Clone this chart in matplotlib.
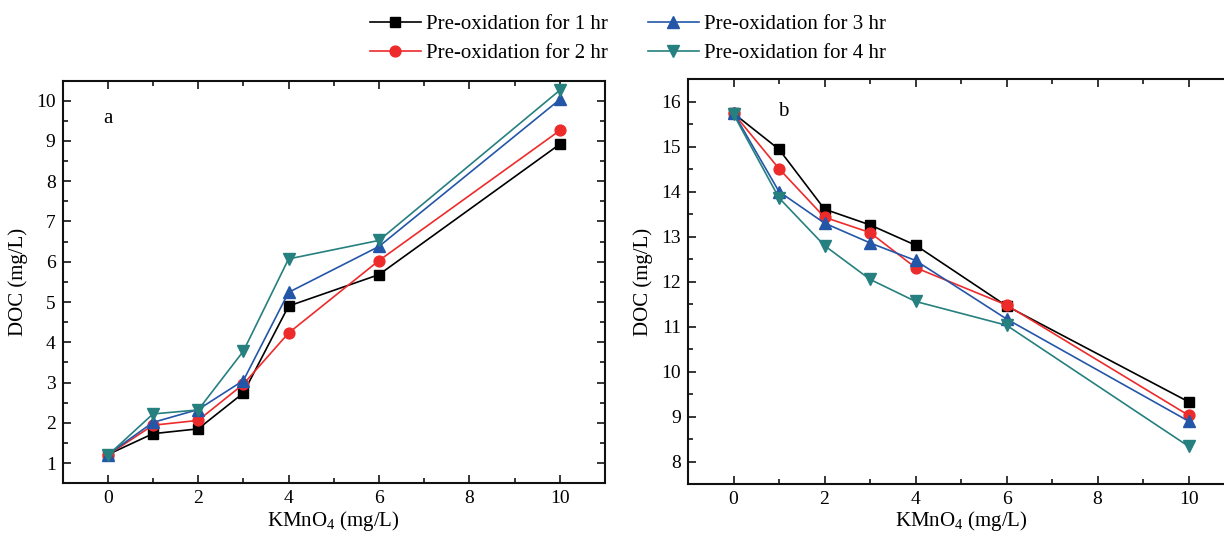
import matplotlib
matplotlib.use("Agg")
import matplotlib.pyplot as plt
from matplotlib.ticker import MultipleLocator

plt.rcParams['font.family'] = ['Liberation Serif', 'DejaVu Serif']
plt.rcParams['mathtext.fontset'] = 'custom'
plt.rcParams['mathtext.rm'] = 'Liberation Serif'

# KMnO4 dose (mg/L)
dose = [0, 1, 2, 3, 4, 6, 10]

labels = ['Pre-oxidation for 1 hr', 'Pre-oxidation for 2 hr',
          'Pre-oxidation for 3 hr', 'Pre-oxidation for 4 hr']

# Panel a: DOC (mg/L)
doc_a_1hr = [1.21, 1.73, 1.85, 2.74, 4.90, 5.68, 8.92]
doc_a_2hr = [1.20, 1.94, 2.06, 2.96, 4.23, 6.03, 9.26]
doc_a_3hr = [1.21, 2.01, 2.33, 3.05, 5.24, 6.38, 10.03]
doc_a_4hr = [1.19, 2.22, 2.32, 3.78, 6.07, 6.53, 10.26]

# Panel b: DOC (mg/L)
doc_b_1hr = [15.74, 14.94, 13.61, 13.26, 12.81, 11.46, 9.33]
doc_b_2hr = [15.74, 14.51, 13.43, 13.09, 12.31, 11.48, 9.03]
doc_b_3hr = [15.75, 14.00, 13.30, 12.86, 12.47, 11.17, 8.90]
doc_b_4hr = [15.72, 13.86, 12.80, 12.05, 11.56, 11.03, 8.34]

colors = ['#000000', '#EE2B2B', '#2456A8', '#25807F']
markers = ['s', 'o', '^', 'v']
msizes = [6.8, 7.8, 8.5, 8.5]

fig = plt.figure(figsize=(12.24, 5.36), dpi=100)
ax_a = fig.add_axes([0.0511, 0.0985, 0.4432, 0.7512])
ax_b = fig.add_axes([0.5621, 0.0968, 0.4461, 0.7556])

series_a = [doc_a_1hr, doc_a_2hr, doc_a_3hr, doc_a_4hr]
series_b = [doc_b_1hr, doc_b_2hr, doc_b_3hr, doc_b_4hr]

handles = []
for ax, series in ((ax_a, series_a), (ax_b, series_b)):
    for vals, c, m, ms, lab in zip(series, colors, markers, msizes, labels):
        h, = ax.plot(dose, vals, color=c, marker=m, markersize=ms,
                     linewidth=1.2, label=lab)
        if ax is ax_a:
            handles.append(h)

def style(ax, ylo, yhi):
    ax.set_xlim(-1, 11)
    ax.set_ylim(ylo, yhi)
    ax.xaxis.set_major_locator(MultipleLocator(2))
    ax.xaxis.set_minor_locator(MultipleLocator(1))
    ax.yaxis.set_major_locator(MultipleLocator(1))
    ax.yaxis.set_minor_locator(MultipleLocator(0.5))
    ax.tick_params(which='both', direction='in', top=True, right=True,
                   labelsize=14, width=1.1, pad=5)
    ax.tick_params(which='major', length=6)
    ax.tick_params(which='minor', length=3.5)
    for sp in ax.spines.values():
        sp.set_linewidth(1.5)
        sp.set_color('#111111')
    ax.set_xlabel('KMnO$_\\mathregular{4}$ (mg/L)', fontsize=15, labelpad=1)
    ax.set_ylabel('DOC (mg/L)', fontsize=15, labelpad=6)

style(ax_a, 0.5, 10.5)
style(ax_b, 7.5, 16.5)
ax_a.set_yticks([1, 2, 3, 4, 5, 6, 7, 8, 9, 10])
ax_b.set_yticks([8, 9, 10, 11, 12, 13, 14, 15, 16])

ax_a.text(0, 9.57, 'a', fontsize=15, ha='center', va='center')
ax_b.text(1.1, 15.78, 'b', fontsize=15, ha='center', va='center')

fig.legend(handles, labels,
           ncol=2, loc='center', bbox_to_anchor=(0.513, 0.928),
           frameon=False, fontsize=15, handlelength=2.45,
           handletextpad=0.25, columnspacing=1.9, labelspacing=0.45,
           borderpad=0.2)

fig.savefig('out.png', dpi=100)
